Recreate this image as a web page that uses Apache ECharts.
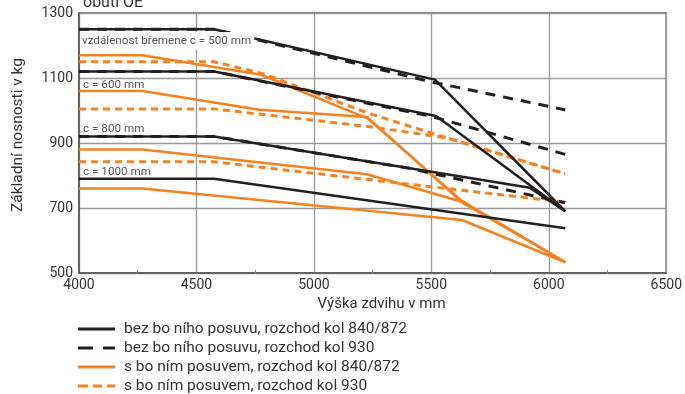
<!DOCTYPE html>
<html>
<head>
<meta charset="utf-8">
<script src="https://cdn.jsdelivr.net/npm/echarts@6/dist/echarts.min.js"></script>
<style>
  html, body { margin: 0; padding: 0; background: #fff; }
  #chart { width: 685px; height: 394px; }
</style>
</head>
<body>
<div id="chart"></div>
<script>
// Axis ticks
const xTicks = [4000, 4500, 5000, 5500, 6000, 6500];
const yTicks = [500, 700, 900, 1100, 1300];

// Legend entries
const seriesNames = [
  'bez bo ního posuvu, rozchod kol 840/872',
  'bez bo ního posuvu, rozchod kol 930',
  's bo ním posuvem, rozchod kol 840/872',
  's bo ním posuvem, rozchod kol 930'
];

// Load centre distances
const loadCentres = ['c = 500 mm', 'c = 600 mm', 'c = 800 mm', 'c = 1000 mm'];

// Without sideshift, wheel track 840/872 : [lift height mm, capacity kg]
const blackSolid500 = [[4000, 1250], [4575, 1250], [5515, 1095], [6070, 690]];
const blackSolid600 = [[4000, 1120], [4575, 1120], [5520, 983], [6070, 690]];
const blackSolid800 = [[4000, 920], [4575, 920], [5920, 762], [6070, 690]];
const blackSolid1000 = [[4000, 790], [4575, 790], [6070, 638]];

// Without sideshift, wheel track 930
const blackDashed500 = [[4000, 1250], [4575, 1250], [5500, 1088], [6070, 1002]];
const blackDashed600 = [[4000, 1120], [4575, 1120], [5500, 982], [6070, 865]];
const blackDashed800 = [[4000, 920], [4575, 920], [5400, 823], [6070, 716]];

// With sideshift, wheel track 840/872
const orangeSolid500 = [[4000, 1170], [4270, 1170], [4775, 1110], [5230, 975], [5630, 722], [6070, 533]];
const orangeSolid600 = [[4000, 1060], [4270, 1060], [4767, 1002], [5226, 980], [5630, 718], [6070, 533]];
const orangeSolid800 = [[4000, 880], [4270, 880], [5226, 804], [5630, 719], [6070, 533]];
const orangeSolid1000 = [[4000, 760], [4270, 760], [5630, 663], [6070, 533]];

// With sideshift, wheel track 930
const orangeDashed500 = [[4000, 1150], [4575, 1150], [4790, 1112], [5230, 992], [5570, 915], [6070, 805]];
const orangeDashed600 = [[4000, 1005], [4575, 1005], [5240, 950], [5570, 915], [6070, 805]];
const orangeDashed800 = [[4000, 842], [4575, 842], [6070, 718]];

// Where each load-centre caption sits (lift height, capacity)
const captionAnchors = [[4000, 1214], [4000, 1078], [4000, 943], [4000, 811]];

const BLACK = '#231f20';
const ORANGE = '#f58220';
const FONT = 'Roboto, "Liberation Sans", sans-serif';

function line(name, data, color, width, type, z) {
  return {
    name: name, type: 'line', data: data, symbol: 'none', z: z,
    color: color,
    lineStyle: { color: color, width: width, type: type },
    emphasis: { disabled: true },
    animation: false
  };
}

const series = [
  line(seriesNames[3], orangeDashed800, ORANGE, 3, [7, 5], 2),
  line(seriesNames[3], orangeDashed600, ORANGE, 3, [7, 5], 2),
  line(seriesNames[3], orangeDashed500, ORANGE, 3, [7, 5], 2),
  line(seriesNames[2], orangeSolid1000, ORANGE, 2.5, 'solid', 3),
  line(seriesNames[2], orangeSolid800, ORANGE, 2.5, 'solid', 3),
  line(seriesNames[2], orangeSolid600, ORANGE, 2.5, 'solid', 3),
  line(seriesNames[2], orangeSolid500, ORANGE, 2.5, 'solid', 3),
  line(seriesNames[1], blackDashed800, BLACK, 3, [10, 8], 4),
  line(seriesNames[1], blackDashed600, BLACK, 3, [10, 8], 4),
  line(seriesNames[1], blackDashed500, BLACK, 3, [10, 8], 4),
  line(seriesNames[0], blackSolid1000, BLACK, 2.5, 'solid', 5),
  line(seriesNames[0], blackSolid800, BLACK, 2.5, 'solid', 5),
  line(seriesNames[0], blackSolid600, BLACK, 2.5, 'solid', 5),
  line(seriesNames[0], blackSolid500, BLACK, 2.5, 'solid', 5)
];

const legendIcons = [
  'path://M0,0H37V3H0Z',
  'path://M0,0H15V3H0Z M25,0H37V3H25Z',
  'path://M0,0H37V3H0Z',
  'path://M0,0H10V3H0Z M15,0H24V3H15Z M29,0H37V3H29Z'
];

const chart = echarts.init(document.getElementById('chart'), null, { renderer: 'canvas' });

chart.setOption({
  animation: false,
  backgroundColor: '#fff',
  textStyle: { fontFamily: FONT },
  title: {
    text: 'obutí OE', left: 78, top: -10,
    textStyle: { fontFamily: FONT, fontSize: 16, fontWeight: 'normal', color: '#333' }
  },
  grid: {
    left: 79, right: 16, top: 13, bottom: 121,
    show: true, borderColor: '#555', borderWidth: 1.5
  },
  xAxis: {
    type: 'value', min: xTicks[0], max: xTicks[xTicks.length - 1], interval: 500,
    name: 'Výška zdvihu v mm', nameLocation: 'middle', nameGap: 19,
    nameTextStyle: { fontFamily: FONT, fontSize: 15, color: '#333', padding: [0, 0, 0, 18] },
    axisLine: { lineStyle: { color: '#555', width: 1.5 } },
    axisTick: { show: false },
    minorTick: { show: true, splitNumber: 2, length: -3, lineStyle: { color: '#888' } },
    axisLabel: { fontFamily: FONT, fontSize: 14, color: '#333', margin: 5, formatter: v => String(v) },
    splitLine: { lineStyle: { color: '#999', width: 1.3 } }
  },
  yAxis: {
    type: 'value', min: yTicks[0], max: yTicks[yTicks.length - 1], interval: 200,
    name: 'Základní nosnosti v kg', nameLocation: 'middle', nameGap: 53, nameRotate: 90,
    nameTextStyle: { fontFamily: FONT, fontSize: 15.5, color: '#333', padding: [0, 0, 0, 16] },
    axisLine: { show: true, lineStyle: { color: '#555', width: 1.5 } },
    axisTick: { show: false },
    axisLabel: { fontFamily: FONT, fontSize: 14, color: '#333', margin: 6, formatter: v => String(v) },
    splitLine: { lineStyle: { color: '#999', width: 1.3 } }
  },
  legend: {
    orient: 'vertical', left: 78, top: 321, padding: 0,
    itemWidth: 37, itemHeight: 3, itemGap: 3,
    selectedMode: false,
    data: seriesNames.map((n, i) => ({ name: n, icon: legendIcons[i] })),
    itemStyle: { borderWidth: 0 },
    lineStyle: { width: 0 },
    textStyle: { fontFamily: FONT, fontSize: 15.5, color: '#333', lineHeight: 15.5, padding: [0, 0, 0, 4] }
  },
  series: series
});

// Captions placed at data coordinates of the load-centre curves
const captions = loadCentres.map((label, i) => {
  const p = chart.convertToPixel({ gridIndex: 0 }, captionAnchors[i]);
  const first = i === 0;
  return {
    type: 'text', z: 100,
    x: p[0] + (first ? 1 : 4), y: p[1],
    style: {
      text: first ? 'vzdálenost břemene ' + label : label,
      fontFamily: FONT, fontSize: 11.7, fill: '#555',
      verticalAlign: 'middle',
      backgroundColor: first ? '#fff' : null,
      padding: first ? [3, 3, 3, 2] : 0
    }
  };
});
chart.setOption({ graphic: captions });
</script>
</body>
</html>
